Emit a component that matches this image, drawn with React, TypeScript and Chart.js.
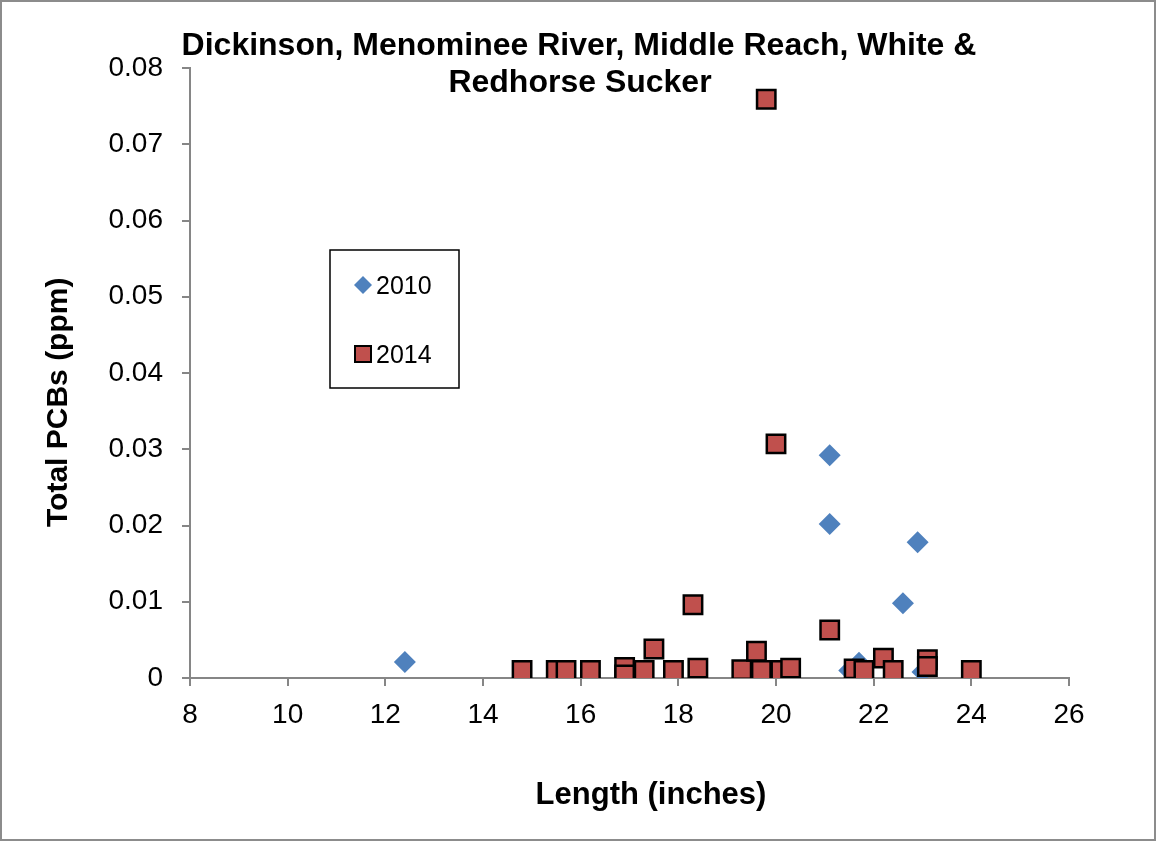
import React, { useEffect, useRef } from "react";
import { Chart, registerables } from "chart.js";

Chart.register(...registerables);

const TITLE_LINES = ["Dickinson, Menominee River, Middle Reach, White &", "Redhorse Sucker"];
const X_TITLE = "Length (inches)";
const Y_TITLE = "Total PCBs (ppm)";

const SERIES_2010_LABEL = "2010";
const LENGTH_2010 = [12.4, 21.1, 21.1, 22.9, 22.6, 21.7, 21.5, 23.0];
const PCB_2010 = [0.0021, 0.0292, 0.0202, 0.0178, 0.0098, 0.002, 0.001, 0.0008];

const SERIES_2014_LABEL = "2014";
const LENGTH_2014 = [
  14.8, 15.5, 15.7, 16.2, 16.9, 16.9, 17.3, 17.5, 17.9, 18.3, 18.4, 19.3, 19.6, 19.7, 19.8,
  20.0, 20.1, 20.3, 21.1, 21.6, 21.8, 22.2, 22.4, 23.1, 23.1, 24.0,
];
const PCB_2014 = [
  0.001, 0.001, 0.001, 0.001, 0.0014, 0.0004, 0.001, 0.0038, 0.001, 0.0096, 0.0013, 0.0011, 0.0035,
  0.001, 0.0759, 0.0307, 0.001, 0.0013, 0.0063, 0.0012, 0.001, 0.0026, 0.001, 0.0024, 0.0015, 0.001,
];

const X_MIN = 8;
const X_MAX = 26;
const X_STEP = 2;
const Y_MIN = 0;
const Y_MAX = 0.08;
const Y_STEP = 0.01;

const BLUE = "#4F81BD";
const RED = "#C0504D";
const AXIS_GRAY = "#868686";
const FONT = "'Liberation Sans', Arial, sans-serif";

export default function App() {
  const ref = useRef<HTMLCanvasElement | null>(null);

  useEffect(() => {
    if (!ref.current) return;

    const decor = {
      id: "decor",
      beforeDraw(chart: any) {
        const ctx = chart.ctx;
        ctx.save();
        ctx.fillStyle = "#ffffff";
        ctx.fillRect(0, 0, chart.width, chart.height);
        ctx.strokeStyle = "#8c8c8c";
        ctx.lineWidth = 2;
        ctx.strokeRect(1, 1, chart.width - 2, chart.height - 3);
        ctx.restore();
      },
      afterDraw(chart: any) {
        const ctx = chart.ctx;
        ctx.save();
        ctx.fillStyle = "#000000";
        // main title
        ctx.font = `bold 32px ${FONT}`;
        ctx.textAlign = "center";
        ctx.textBaseline = "alphabetic";
        ctx.fillText(TITLE_LINES[0], 579, 55);
        ctx.fillText(TITLE_LINES[1], 580, 92);
        // x title
        ctx.font = `bold 31px ${FONT}`;
        ctx.fillText(X_TITLE, 651, 804);
        // y title
        ctx.font = `bold 30px ${FONT}`;
        ctx.save();
        ctx.translate(67, 527);
        ctx.rotate(-Math.PI / 2);
        ctx.textAlign = "left";
        ctx.fillText(Y_TITLE, 0, 0);
        ctx.restore();

        // legend box
        const lx = 330, ly = 250, lw = 129, lh = 138;
        ctx.fillStyle = "#ffffff";
        ctx.fillRect(lx, ly, lw, lh);
        ctx.strokeStyle = "#000000";
        ctx.lineWidth = 1.5;
        ctx.strokeRect(lx, ly, lw, lh);

        // 2010 diamond
        ctx.fillStyle = BLUE;
        ctx.beginPath();
        const dx = 363, dy = 285, dr = 9;
        ctx.moveTo(dx - dr, dy);
        ctx.lineTo(dx, dy - dr);
        ctx.lineTo(dx + dr, dy);
        ctx.lineTo(dx, dy + dr);
        ctx.closePath();
        ctx.fill();
        // 2014 square
        ctx.fillStyle = RED;
        ctx.fillRect(355, 346, 16, 16);
        ctx.strokeStyle = "#000000";
        ctx.lineWidth = 2;
        ctx.strokeRect(355, 346, 16, 16);

        ctx.fillStyle = "#000000";
        ctx.font = `25px ${FONT}`;
        ctx.textAlign = "left";
        ctx.fillText(SERIES_2010_LABEL, 376, 294);
        ctx.fillText(SERIES_2014_LABEL, 376, 363);
        ctx.restore();
      },
    };

    const chart = new Chart(ref.current, {
      type: "scatter",
      data: {
        datasets: [
          {
            label: SERIES_2010_LABEL,
            data: LENGTH_2010.map((x, i) => ({ x, y: PCB_2010[i] })),
            pointStyle: "rectRot",
            pointRadius: 11,
            pointHoverRadius: 11,
            backgroundColor: BLUE,
            borderColor: BLUE,
            borderWidth: 0,
            order: 1,
          },
          {
            label: SERIES_2014_LABEL,
            data: LENGTH_2014.map((x, i) => ({ x, y: PCB_2014[i] })),
            pointStyle: "rect",
            pointRadius: 13,
            pointHoverRadius: 13,
            backgroundColor: RED,
            borderColor: "#000000",
            borderWidth: 2.5,
            order: 0,
          },
        ],
      },
      options: {
        responsive: false,
        animation: false,
        events: [],
        layout: { padding: { left: 0, top: 68, right: 87, bottom: 0 } },
        plugins: {
          legend: { display: false },
          title: { display: false },
          tooltip: { enabled: false },
        },
        scales: {
          x: {
            type: "linear",
            min: X_MIN,
            max: X_MAX,
            afterFit: (s: any) => {
              s.height = 164;
            },
            ticks: {
              stepSize: X_STEP,
              color: "#000000",
              padding: 12,
              font: { family: FONT, size: 28 },
              maxRotation: 0,
            },
            grid: {
              display: true,
              drawOnChartArea: false,
              drawTicks: true,
              tickLength: 8,
              color: AXIS_GRAY,
              lineWidth: 2,
            },
            border: { display: true, color: AXIS_GRAY, width: 2 },
          },
          y: {
            type: "linear",
            min: Y_MIN,
            max: Y_MAX,
            afterFit: (s: any) => {
              s.width = 190;
            },
            ticks: {
              stepSize: Y_STEP,
              color: "#000000",
              padding: 19,
              font: { family: FONT, size: 28 },
              callback: (v: any) => (Number(v) === 0 ? "0" : Number(v).toFixed(2)),
            },
            grid: {
              display: true,
              drawOnChartArea: false,
              drawTicks: true,
              tickLength: 8,
              color: AXIS_GRAY,
              lineWidth: 2,
            },
            border: { display: true, color: AXIS_GRAY, width: 2 },
          },
        },
      },
      plugins: [decor],
    });

    return () => chart.destroy();
  }, []);

  return (
    <div style={{ position: "absolute", left: 0, top: 0, width: 1156, height: 842 }}>
      <canvas ref={ref} width={1156} height={842} style={{ width: 1156, height: 842, display: "block" }} />
    </div>
  );
}
